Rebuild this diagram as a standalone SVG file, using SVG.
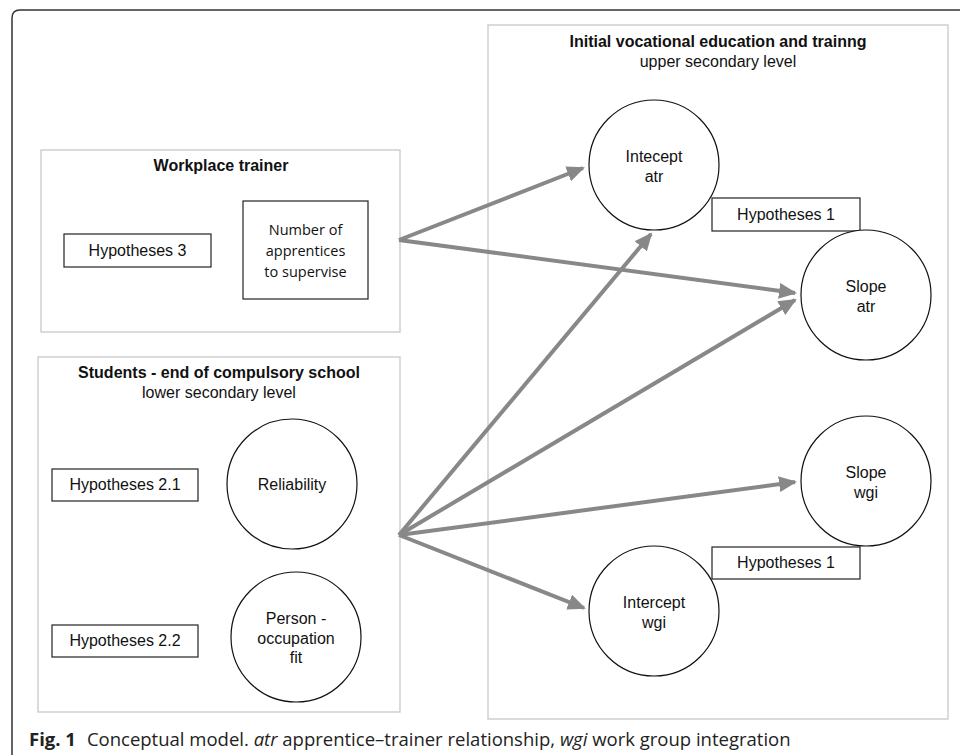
<svg xmlns="http://www.w3.org/2000/svg" width="960" height="755" viewBox="0 0 960 755">
<defs>
<style>
.frame{fill:none;stroke:#cfcfcf;stroke-width:1.5}
.box{fill:#fff;stroke:#222;stroke-width:1.2}
.circ{fill:#fff;stroke:#111;stroke-width:1.2}
.t{font-family:"Liberation Sans",Arial,sans-serif;font-size:16px;fill:#111;text-anchor:middle}
.tb{font-family:"Liberation Sans",Arial,sans-serif;font-size:16px;font-weight:bold;fill:#111;text-anchor:middle}
.tc{font-family:"Open Sans",sans-serif;font-size:14.5px;fill:#111;text-anchor:middle}
.cap{font-family:"Open Sans",sans-serif;font-size:18.5px;fill:#222}
.arr{fill:none;stroke:#888;stroke-width:4;marker-end:url(#ah)}
</style>
<marker id="ah" markerUnits="userSpaceOnUse" markerWidth="18" markerHeight="16" refX="16" refY="8" orient="auto" viewBox="0 0 18 16">
<path d="M0,0 L18,8 L0,16 Z" fill="#888"/>
</marker>
</defs>
<path d="M12,755 V18 Q12,10 20,10 H960" fill="none" stroke="#333" stroke-width="1.5"/>
<g id="workplace-trainer">
<rect class="frame" x="41" y="150" width="359" height="182"/>
<text class="tb" x="221" y="171">Workplace trainer</text>
</g>
<g id="hyp3">
<rect class="box" x="64" y="234" width="147" height="33"/>
<text class="t" x="137.5" y="256">Hypotheses 3</text>
</g>
<g id="num-apprentices">
<rect class="box" x="243" y="201" width="125" height="98"/>
<text class="tc" x="305.5" y="235">Number of</text>
<text class="tc" x="305.5" y="256">apprentices</text>
<text class="tc" x="305.5" y="277">to supervise</text>
</g>
<g id="students">
<rect class="frame" x="38" y="357" width="362" height="355"/>
<text class="tb" x="219" y="378">Students - end of compulsory school</text>
<text class="t" x="219" y="398">lower secondary level</text>
</g>
<g id="hyp21">
<rect class="box" x="52" y="469" width="146" height="32"/>
<text class="t" x="125" y="490">Hypotheses 2.1</text>
</g>
<g id="reliability">
<circle class="circ" cx="292" cy="484" r="65"/>
<text class="t" x="292" y="490">Reliability</text>
</g>
<g id="hyp22">
<rect class="box" x="52" y="625" width="146" height="32"/>
<text class="t" x="125" y="646">Hypotheses 2.2</text>
</g>
<g id="person-occupation">
<circle class="circ" cx="296" cy="637" r="65"/>
<text class="t" x="296" y="624">Person -</text>
<text class="t" x="296" y="644">occupation</text>
<text class="t" x="296" y="663">fit</text>
</g>
<g id="ivet">
<rect class="frame" x="488" y="25" width="460" height="694"/>
<text class="tb" x="718" y="47">Initial vocational education and trainng</text>
<text class="t" x="718" y="67">upper secondary level</text>
</g>
<g id="intercept-atr">
<circle class="circ" cx="654" cy="165" r="65"/>
<text class="t" x="654" y="162">Intecept</text>
<text class="t" x="654" y="182">atr</text>
</g>
<g id="hyp1-top">
<rect class="box" x="712" y="198" width="148" height="33"/>
<text class="t" x="786" y="220">Hypotheses 1</text>
</g>
<g id="slope-atr">
<circle class="circ" cx="866" cy="295" r="65"/>
<text class="t" x="866" y="292">Slope</text>
<text class="t" x="866" y="312">atr</text>
</g>
<g id="slope-wgi">
<circle class="circ" cx="866" cy="481" r="65"/>
<text class="t" x="866" y="478">Slope</text>
<text class="t" x="866" y="498">wgi</text>
</g>
<g id="hyp1-bottom">
<rect class="box" x="712" y="547" width="148" height="32"/>
<text class="t" x="786" y="568">Hypotheses 1</text>
</g>
<g id="intercept-wgi">
<circle class="circ" cx="654" cy="611" r="65"/>
<text class="t" x="654" y="608">Intercept</text>
<text class="t" x="654" y="628">wgi</text>
</g>
<g id="connectors">
<path class="arr" d="M399,240 L583,168"/>
<path class="arr" d="M399,240 L795,293"/>
<path class="arr" d="M399,535 L651,234"/>
<path class="arr" d="M399,535 L795,300"/>
<path class="arr" d="M399,535 L795,482"/>
<path class="arr" d="M399,535 L584,608"/>
</g>
<text class="cap" x="29" y="746"><tspan font-weight="bold">Fig. 1</tspan><tspan dx="11">Conceptual model. </tspan><tspan font-style="italic">atr</tspan> apprentice–trainer relationship, <tspan font-style="italic">wgi</tspan> work group integration</text>
</svg>
